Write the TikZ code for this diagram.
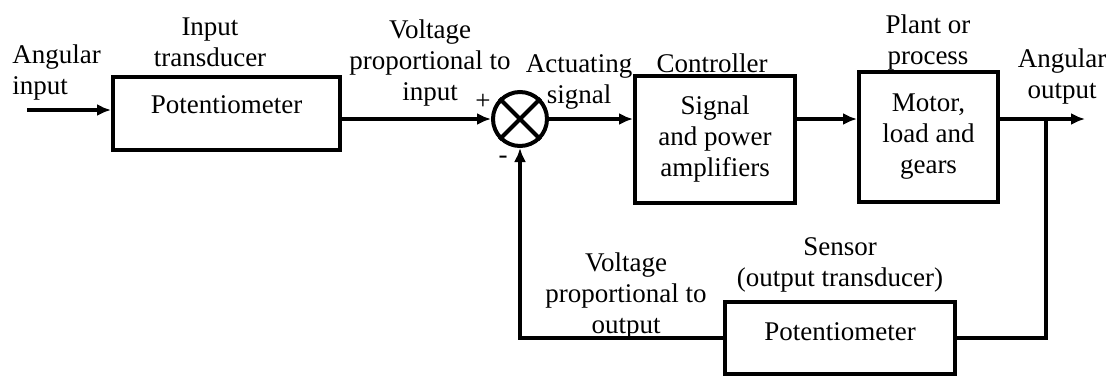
\documentclass[tikz,border=0pt]{standalone}
\usepackage{fontspec}
\setmainfont{Liberation Serif}
\usetikzlibrary{arrows.meta}
\begin{document}
\begin{tikzpicture}[x=0.5pt,y=-0.5pt,
    font=\fontsize{13.5}{15.5}\selectfont,
    every node/.style={inner sep=0pt},
    bloc/.style={draw,rectangle,line width=2pt,align=center},
    lbl/.style={align=center,anchor=north},
    fleche/.style={-{Latex[length=7pt,width=6pt]},line width=1.7pt},
    trait/.style={line width=1.7pt}]
    \useasboundingbox (0,0) rectangle (1114,376);
    \node[bloc,minimum width=113.5pt,minimum height=36.5pt,text depth=9pt] (E) at (226.5,113.5){Potentiometer};
    \node[draw,circle,line width=2pt,minimum size=27pt] (S) at (520,119){};
    \draw[line width=2pt] (S.north west) -- (S.south east) (S.north east) -- (S.south west);
    \node[bloc,minimum width=80pt,minimum height=63.5pt] (C) at (715,139.5){Signal\\and power\\amplifiers};
    \node[bloc,minimum width=69.5pt,minimum height=65pt] (P) at (928.5,137){Motor,\\load and\\gears};
    \node[bloc,minimum width=115pt,minimum height=36pt,text depth=6pt] (R) at (840,338){Potentiometer};
    \coordinate (ain) at (27,110);
    \coordinate (aout) at (1085,119);
    \coordinate (tap) at (1046,119);
    \draw[fleche] (ain) -- (ain -| E.west);
    \draw[fleche] (S -| E.east) -- (S.west);
    \draw[fleche] (S.east) -- (S -| C.west);
    \draw[fleche] (S -| C.east) -- (S -| P.west);
    \draw[fleche] (S -| P.east) -- (aout);
    \draw[trait] (tap) |- (R.east);
    \draw[fleche] (R.west) -| (S.south);
    \node[lbl,anchor=north west,align=left] (ai) at (12,44){Angular\\input};
    \node[lbl] (it) at (210,17){Input\\transducer};
    \node[lbl] (vi) at (430,19){Voltage\\proportional to\\input};
    \node (plus) at (483,102){+};
    \node[lbl] (as) at (579,54){Actuating\\signal};
    \node[anchor=base] (ct) at (712,72){Controller};
    \node[lbl] (pp) at (928,14){Plant or\\process};
    \node[lbl] (ao) at (1062,48){Angular\\output};
    \node (moins) at (503,160){-};
    \node[lbl] (vo) at (626,252){Voltage\\proportional to\\output};
    \node[lbl] (so) at (840,237){Sensor\\(output transducer)};
\end{tikzpicture}
\end{document}
